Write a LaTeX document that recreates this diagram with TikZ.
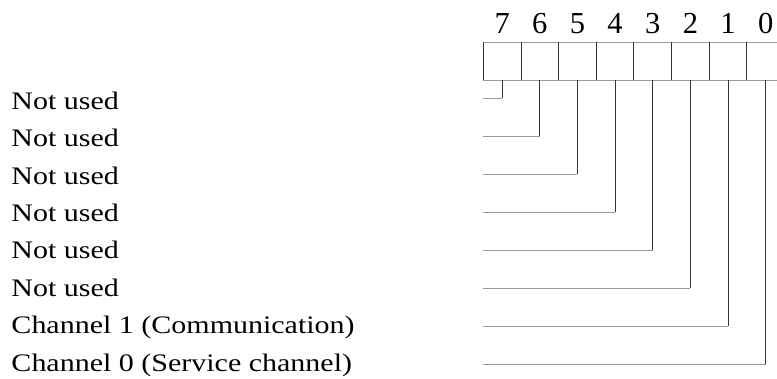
\documentclass[tikz,border=0pt]{standalone}
\usepackage{graphicx}
\usepackage{fontspec}
\setmainfont{Liberation Serif}
\begin{document}
\begin{tikzpicture}[x=1pt,y=-1pt,
  cell/.style={inner sep=0pt, outer sep=0pt, minimum width=37.66pt, minimum height=37.9pt},
  digit/.style={inner sep=0pt, font=\fontsize{30.5}{36}\selectfont},
  lbl/.style={inner sep=0pt, font=\fontsize{25.2}{30}\selectfont},
  vline/.style={draw=black!80, line width=0.9pt},
  hline/.style={draw=black!40, line width=0.9pt}]
\useasboundingbox (0,0) rectangle (777,379);
\clip (0,0) rectangle (777,379);

% register cells with their bit numbers
\foreach \k in {0,...,7} {
  \pgfmathsetmacro\cx{483.3+37.66*(7-\k+0.5)}
  \node[cell] (cell\k) at (\cx,61.15) {};
  \node[digit, anchor=base] (num\k) at (\cx,33.3) {\k};
}
% frame of the register
\draw[hline] (cell7.north west) -- (cell0.north east);
\draw[hline] (cell7.south west) -- (cell0.south east);
\foreach \k in {0,...,7} {
  \draw[vline] (cell\k.north west) -- (cell\k.south west);
}
\draw[vline] (cell0.north east) -- (cell0.south east);

% bit descriptions and their leader lines
\foreach \k/\txt [count=\r from 0] in {7/Not used, 6/Not used, 5/Not used, 4/Not used,
    3/Not used, 2/Not used, 1/Channel 1 (Communication), 0/Channel 0 (Service channel)} {
  \pgfmathsetmacro\ly{98+38.0*\r}
  \pgfmathsetmacro\by{109.3+37.4*\r}
  \node[lbl, anchor=base west] (lab\k) at (11.3,\by) {\scalebox{1.19}[1]{\txt}};
  \coordinate (start\k) at (483.3,\ly);
  \coordinate (bend\k) at (cell\k.south |- start\k);
  \draw[vline] (cell\k.south) -- (bend\k);
  \draw[hline] (bend\k) -- (start\k);
}
\end{tikzpicture}
\end{document}
